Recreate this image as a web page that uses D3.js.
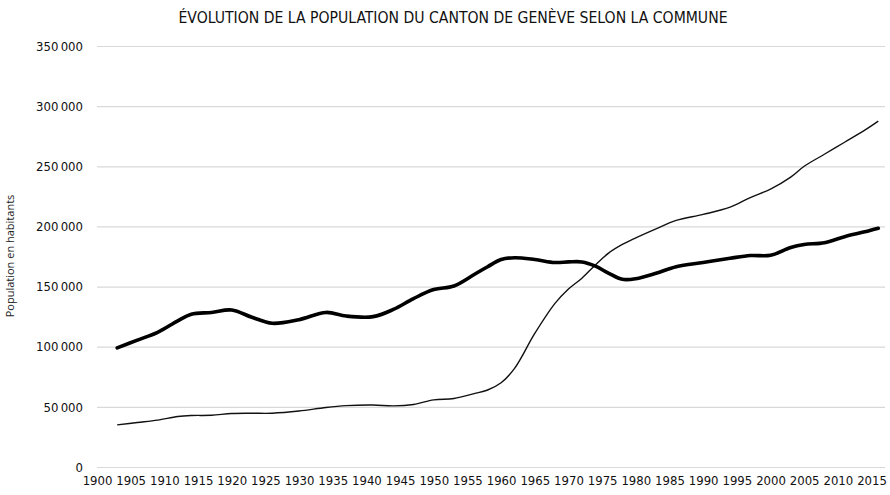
<!DOCTYPE html>
<html>
<head>
<meta charset="utf-8">
<script src="https://cdn.jsdelivr.net/npm/d3@7"></script>
<style>
  body { margin: 0; background: #fff; }
  .tick text { font-family: "DejaVu Sans Condensed", "DejaVu Sans", sans-serif; }
</style>
</head>
<body>
<div class="chart"></div>
<script>
// Data
var years = [1903, 1906, 1909, 1912, 1914, 1917, 1920, 1923, 1926, 1930, 1934, 1937, 1941, 1944, 1947,
  1950, 1953, 1956, 1958, 1960, 1962, 1965, 1968, 1970, 1972, 1974, 1976, 1978, 1980, 1983,
  1986, 1990, 1994, 1997, 2000, 2003, 2005, 2008, 2011, 2014, 2016];

// thick line
var villeGeneve = [99000, 105500, 112000, 121500, 127000, 128500, 130500, 124500, 119500, 122500, 128500, 125500, 125000, 131000, 140000,
  147500, 150500, 160000, 166500, 172500, 174000, 172500, 170000, 170500, 170500, 167000, 161000, 156000, 156500, 161000,
  166500, 170000, 173500, 175800, 176000, 182500, 185000, 186500, 191500, 195500, 198500];

// thin line
var autresCommunes = [35000, 37000, 39000, 42000, 42800, 43000, 44500, 44700, 44700, 46500, 49500, 51000, 51500, 50800, 52000,
  55800, 57000, 61000, 64000, 70000, 82000, 111000, 136000, 148000, 157000, 168000, 178000, 185000, 190500, 198000,
  205000, 210000, 216000, 224000, 231000, 241000, 250000, 260000, 270000, 280000, 287500];

var xTicks = d3.range(1900, 2016, 5);
var yTicks = [0, 50000, 100000, 150000, 200000, 250000, 300000, 350000];

var titleText = "ÉVOLUTION DE LA POPULATION DU CANTON DE GENÈVE SELON LA COMMUNE";
var yLabel = "Population en habitants";

var svgWidth = 890;
var svgHeight = 495;

var svg = d3.select(".chart")
  .append("svg")
  .attr("width", svgWidth)
  .attr("height", svgHeight)
  .style("background", "#fff");

var xScale = d3.scaleLinear().domain([1900, 2017]).range([97, 885]);
var yScale = d3.scaleLinear().domain([0, 350000]).range([467, 46]);

var fmt = d3.formatLocale({ decimal: ",", thousands: "\u202f", grouping: [3], currency: ["", ""] }).format(",d");

// gridlines + y labels
var yAxis = d3.axisLeft(yScale)
  .tickValues(yTicks)
  .tickSize(-(885 - 97))
  .tickPadding(14)
  .tickFormat(fmt);
var gy = svg.append("g")
  .attr("transform", "translate(97,0)")
  .call(yAxis);
gy.select(".domain").remove();
gy.selectAll(".tick line").attr("stroke", "#d9d9d9").attr("stroke-width", 1.2);
gy.selectAll(".tick text").attr("font-size", 13).attr("fill", "#111");

// x labels
var xAxis = d3.axisBottom(xScale)
  .tickValues(xTicks)
  .tickSize(0)
  .tickPadding(9)
  .tickFormat(d3.format("d"));
var gx = svg.append("g")
  .attr("transform", "translate(0,467)")
  .call(xAxis);
gx.select(".domain").remove();
gx.selectAll(".tick text").attr("font-size", 13).attr("fill", "#111");

var line = d3.line()
  .x((d, i) => xScale(years[i]))
  .y(d => yScale(d))
  .curve(d3.curveCatmullRom.alpha(0.5));

svg.append("path")
  .datum(autresCommunes)
  .attr("d", line)
  .attr("fill", "none")
  .attr("stroke", "#111")
  .attr("stroke-width", 1.4);

svg.append("path")
  .datum(villeGeneve)
  .attr("d", line)
  .attr("fill", "none")
  .attr("stroke", "#000")
  .attr("stroke-width", 3.6)
  .attr("stroke-linecap", "round");

// title
svg.append("text")
  .attr("x", 453)
  .attr("y", 23)
  .attr("text-anchor", "middle")
  .attr("font-family", "'DejaVu Sans Condensed', 'DejaVu Sans', sans-serif")
  .attr("font-size", 15.6)
  .attr("fill", "#111")
  .text(titleText);

// y label
svg.append("text")
  .attr("transform", "translate(14,256) rotate(-90)")
  .attr("text-anchor", "middle")
  .attr("font-family", "'Open Sans', sans-serif")
  .attr("font-size", 11)
  .attr("fill", "#222")
  .text(yLabel);
</script>
</body>
</html>
